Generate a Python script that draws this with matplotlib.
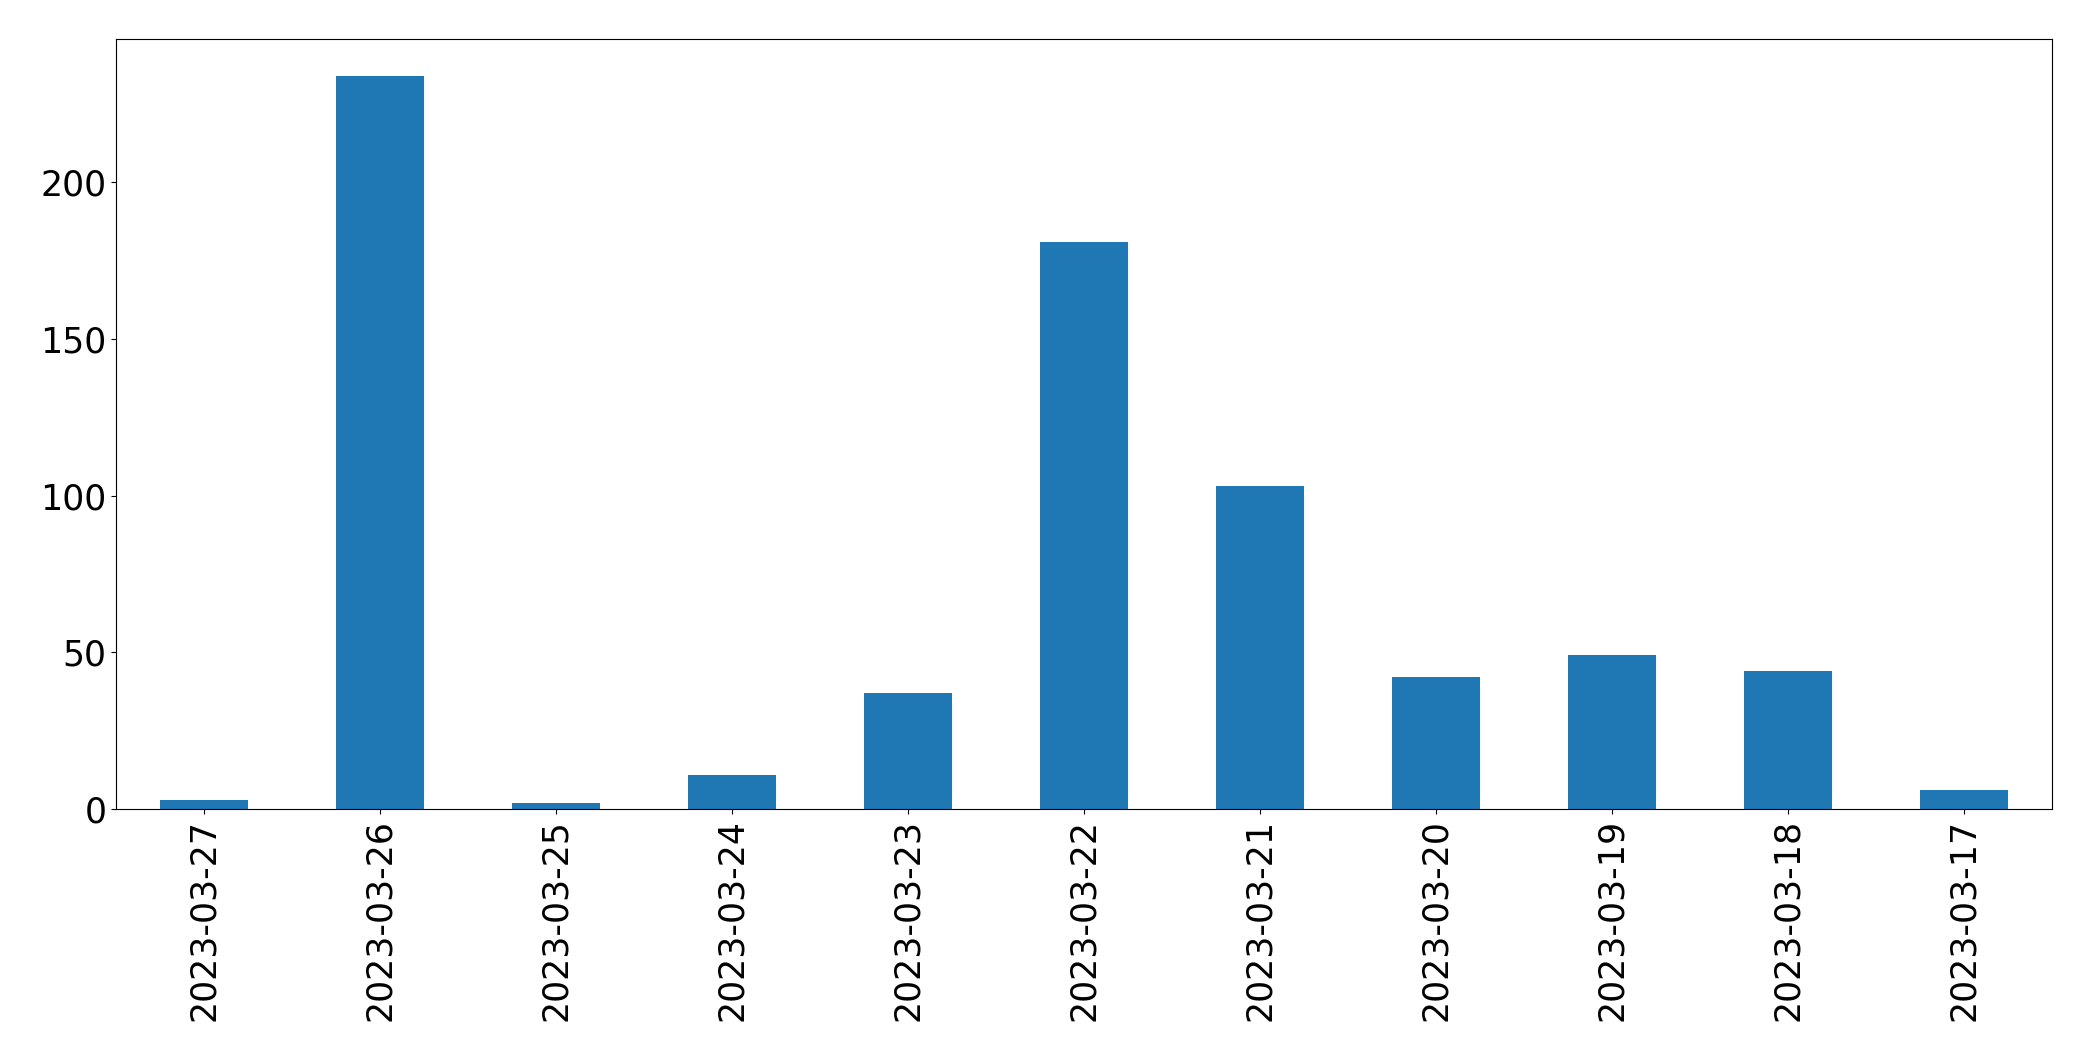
import matplotlib
matplotlib.use('Agg')
import matplotlib.pyplot as plt
import pandas as pd

# daily counts, newest first (as in the original)
dates = ['2023-03-27', '2023-03-26', '2023-03-25', '2023-03-24', '2023-03-23',
         '2023-03-22', '2023-03-21', '2023-03-20', '2023-03-19', '2023-03-18',
         '2023-03-17']
counts = [3, 234, 2, 11, 37, 181, 103, 42, 49, 44, 6]

s = pd.Series(counts, index=dates)

fig, ax = plt.subplots(figsize=(20.93, 10.61), dpi=100)
s.plot(kind='bar', ax=ax, color='#1f77b4')

ax.tick_params(axis='both', labelsize=25)

plt.subplots_adjust(left=116/2093, right=2052/2093, top=1 - 39/1061, bottom=1 - 809/1061)
plt.savefig('out.png', dpi=100)
